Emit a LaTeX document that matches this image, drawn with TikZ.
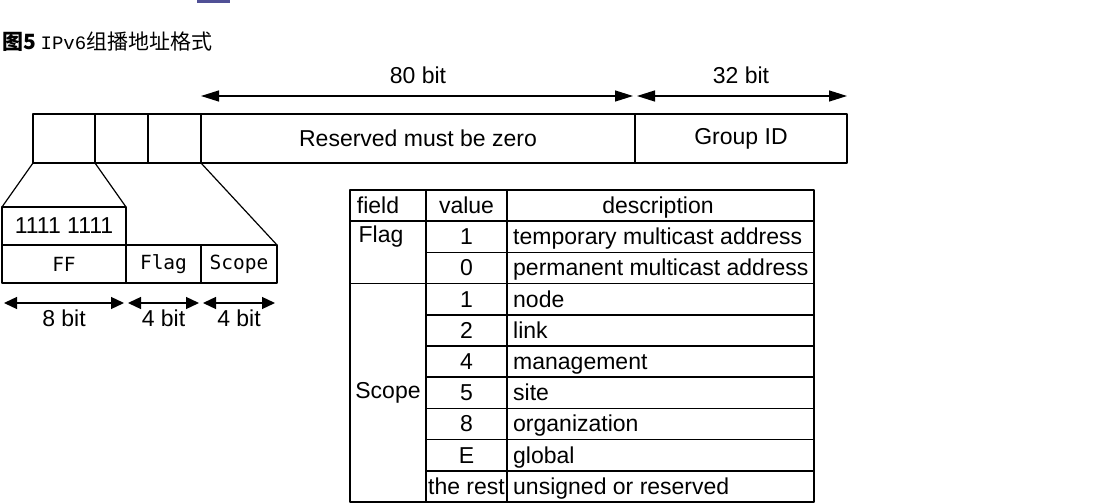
\documentclass[tikz,border=0pt]{standalone}
\usepackage{fontspec}
\setmainfont{Liberation Sans}
\newfontfamily\cjkfont{Noto Sans CJK SC}
\newfontfamily\boxmono{DejaVu Sans Mono}
\newfontfamily\capmono{Liberation Mono}
\usetikzlibrary{arrows.meta,positioning}
\definecolor{barblue}{RGB}{80,80,150}
\tikzset{
	cell/.style={draw,line width=1.4pt,inner sep=0pt,outer sep=0pt,anchor=north west,minimum height=49},
	word/.style={inner sep=0pt,text height=16.5pt,text depth=4.8pt},
	monotext/.style={font=\boxmono\fontsize{19.5}{23}\selectfont},
	bitarrow/.style={<->,line width=1.3pt},
	smallarrow/.style={{Triangle[length=13pt,width=12pt]}-{Triangle[length=13pt,width=12pt]},line width=1.3pt,shorten <=2pt,shorten >=2pt},
	tline/.style={line width=1.5pt}
}
\begin{document}
\begin{tikzpicture}[x=1pt,y=-1pt,>={Triangle[length=18pt,width=11pt]},line join=round,font=\fontsize{23}{27}\selectfont]
	\useasboundingbox (0,0) rectangle (1095,503);
	\fill[barblue] (197,0) rectangle (230,3);
	%tiêu đề
	\node[anchor=west,inner sep=0pt,font=\cjkfont\fontsize{21}{25}\selectfont] (title) at (2,42) {{\bfseries 图5}\ {\capmono\fontsize{19}{23}\selectfont IPv6}组播地址格式};
	%địa chỉ 128 bit
	\node[cell,minimum width=62] (F1) at (33,114) {};
	\node[cell,minimum width=53,right=0pt of F1] (F2) {};
	\node[cell,minimum width=53,right=0pt of F2] (F3) {};
	\node[cell,minimum width=434,right=0pt of F3] (R) {Reserved must be zero};
	\node[cell,minimum width=212,right=0pt of R] (G) {Group ID};
	\path (R.north west) ++(0,-18) coordinate (R1)
	(R.north east) ++(0,-18) coordinate (R2)
	(G.north east) ++(0,-18) coordinate (G2);
	\draw[bitarrow,shorten >=2pt] (R1) -- (R2) node[word,midway,yshift=18pt]{80 bit};
	\draw[bitarrow,shorten <=2pt] (R2) -- (G2) node[word,midway,yshift=18pt]{32 bit};
	%phần mở rộng FF, Flag, Scope
	\node[cell,minimum width=124,minimum height=38] (ones) at (2,207) {1111 1111};
	\node[cell,minimum width=124,minimum height=38,below=0pt of ones,monotext] (FF) {FF};
	\node[cell,minimum width=75,minimum height=38,right=0pt of FF,monotext] (flag) {Flag};
	\node[cell,minimum width=76,minimum height=38,right=0pt of flag,monotext] (scope) {Scope};
	\draw[line width=1.2pt] (F1.south west) -- (ones.north west)
	(F2.south west) -- (ones.north east)
	(F3.south east) -- (scope.north east);
	\path (FF.south west) ++(0,20) coordinate (B0)
	(FF.south east) ++(0,20) coordinate (B1)
	(flag.south east) ++(0,20) coordinate (B2)
	(scope.south east) ++(0,20) coordinate (B3);
	\foreach \a/\b/\t in {B0/B1/8 bit,B1/B2/4 bit,B2/B3/4 bit}{
		\draw[smallarrow] (\a) -- (\b) node[word,midway,yshift=-18pt]{\t};}
	%bảng giá trị
	\draw[tline] (350,190) rectangle (814,502);
	\draw[tline] (426,190) -- (426,502) (507,190) -- (507,502)
	(350,221.2) -- (814,221.2) (350,283.6) -- (814,283.6);
	\foreach \i in {2,4,5,6,7,8,9}{
		\draw[tline] (426,{190+31.2*\i}) -- (814,{190+31.2*\i});}
	\node[word] (hfield) at (378,207.6) {field};
	\node[word] (hvalue) at (466.5,207.6) {value};
	\node[word] (hdesc) at (658,207.6) {description};
	\node[word] (fflag) at (381,237) {Flag};
	\node[word] (fscope) at (388,393) {Scope};
	\foreach \v/\d [count=\i] in {1/temporary multicast address,0/permanent multicast address,1/node,2/link,4/management,5/site,8/organization,E/global,the rest/unsigned or reserved}{
		\node[word] (v\i) at (466.5,{207.6+31.2*\i}) {\v};
		\node[word,anchor=west] (d\i) at (513,{207.6+31.2*\i}) {\d};}
\end{tikzpicture}
\end{document}
